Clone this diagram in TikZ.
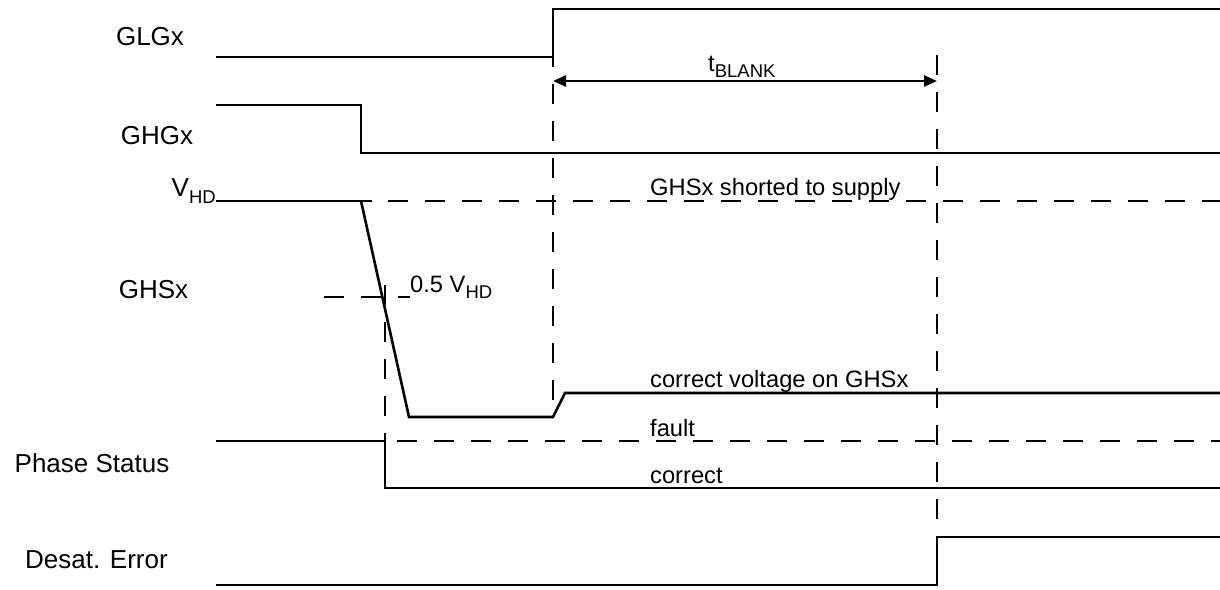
\documentclass[tikz,border=0pt]{standalone}
\usepackage{fontspec}
\setmainfont{Liberation Sans}
\usetikzlibrary{arrows.meta}
\newcommand\subsc[1]{\raisebox{-0.27em}{\fontsize{18.5}{20}\selectfont #1}}
\begin{document}
\begin{tikzpicture}[x=1pt,y=-1pt,
  sig/.style={line width=2.6pt},
  dsh/.style={line width=2.6pt, dash pattern=on 20pt off 17pt},
  lbl/.style={font=\fontsize{26}{30}\selectfont, inner sep=0pt, anchor=base},
  note/.style={font=\fontsize{23.7}{28}\selectfont, inner sep=0pt, anchor=base west},
  dim/.style={line width=2.6pt, {Triangle[length=13pt,width=11pt]}-{Triangle[length=13pt,width=11pt]}}]
\useasboundingbox (0,0) rectangle (1220,589);
\fill[white] (0,0) rectangle (1220,589);

% left labels
\node[lbl] (lglg) at (150,45) {GLGx};
\node[lbl] (lghg) at (157,144) {GHGx};
\node[lbl, anchor=base east] (lvhd) at (216,196) {V\subsc{HD}};
\node[lbl] (lghs) at (153.5,298) {GHSx};
\node[lbl] (lphs) at (92,472) {Phase Status};
\node[lbl] (ldes) at (96.5,568) {Desat. Error};

% GLGx
\draw[sig] (216,57) -- (553,57) -- (553,9) -- (1220,9);
% GHGx
\draw[sig] (216,105) -- (361,105) -- (361,153) -- (1220,153);
% V_HD level
\draw[sig] (216,201) -- (372,201);
\draw[dsh] (388,201) -- (1220,201);
% GHSx waveform
\draw[sig] (361,201) -- (409,417) -- (553,417) -- (565,393) -- (1220,393);
% 0.5 V_HD marker
\draw[dsh] (324,297) -- (410,297);
% Phase Status
\draw[sig] (216,441) -- (385,441) -- (385,488) -- (1220,488);
\draw[dsh] (397,441) -- (1220,441);
% Desat. Error
\draw[sig] (216,585) -- (937,585) -- (937,537) -- (1220,537);

% vertical markers
\draw[dsh] (385,285) -- (385,441);
\draw[dsh, dash phase=10pt] (553,57) -- (553,417);
\draw[dsh] (937,55) -- (937,537);

% t_BLANK
\coordinate (ba) at (553,81);
\coordinate (bb) at (937,81);
\draw[dim] (ba) -- (bb);
\node[note] (tbl) at (708,71) {t\subsc{BLANK}};

% annotations
\node[note] (n1) at (650,195) {GHSx shorted to supply};
\node[note] (n2) at (410,292) {0.5 V\subsc{HD}};
\node[note] (n3) at (650,387) {correct voltage on GHSx};
\node[note] (n4) at (650,436) {fault};
\node[note] (n5) at (650,483) {correct};
\end{tikzpicture}
\end{document}
